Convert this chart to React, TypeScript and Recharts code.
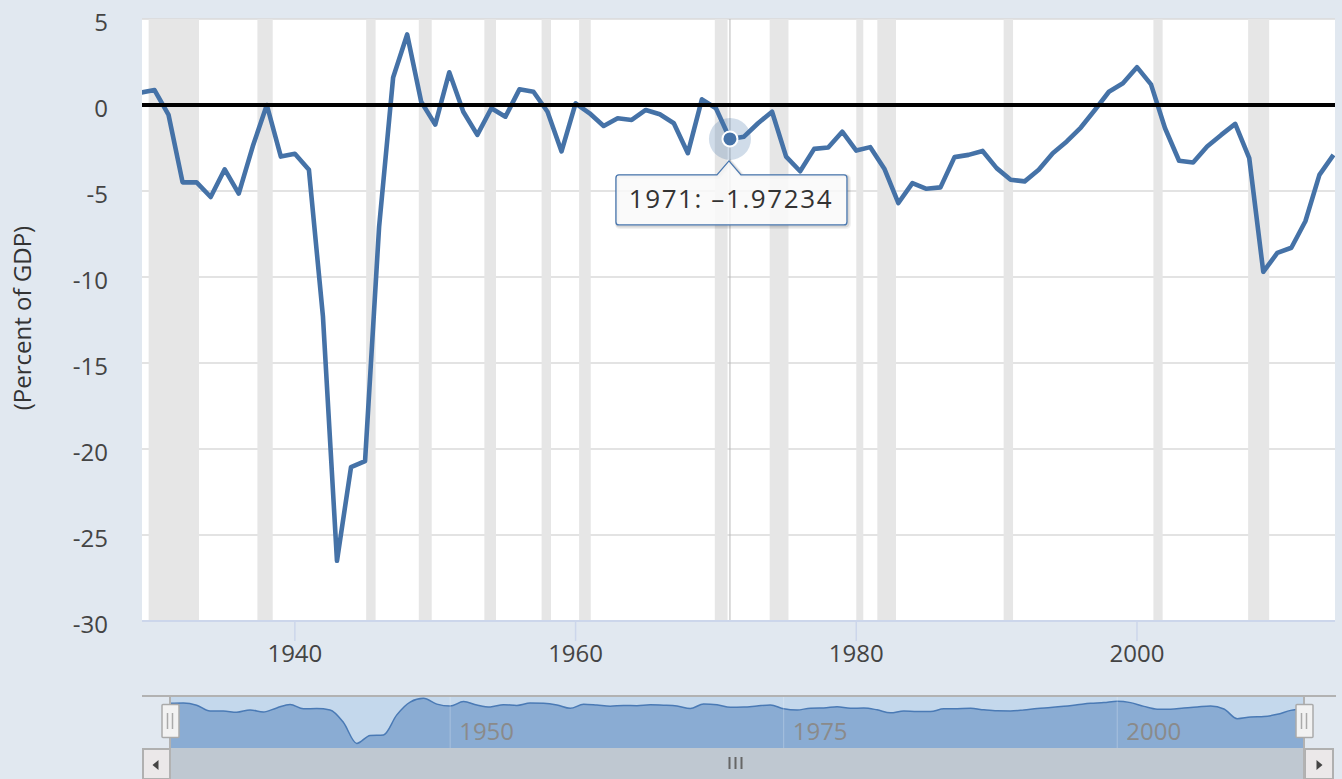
import React from 'react';
import {
  LineChart,
  Line,
  XAxis,
  YAxis,
  CartesianGrid,
  ReferenceArea,
  ReferenceLine,
  ReferenceDot,
  AreaChart,
  Area,
} from 'recharts';

// ---------- data ----------
const years = [
  1929, 1930, 1931, 1932, 1933, 1934, 1935, 1936, 1937, 1938, 1939,
  1940, 1941, 1942, 1943, 1944, 1945, 1946, 1947, 1948, 1949,
  1950, 1951, 1952, 1953, 1954, 1955, 1956, 1957, 1958, 1959,
  1960, 1961, 1962, 1963, 1964, 1965, 1966, 1967, 1968, 1969,
  1970, 1971, 1972, 1973, 1974, 1975, 1976, 1977, 1978, 1979,
  1980, 1981, 1982, 1983, 1984, 1985, 1986, 1987, 1988, 1989,
  1990, 1991, 1992, 1993, 1994, 1995, 1996, 1997, 1998, 1999,
  2000, 2001, 2002, 2003, 2004, 2005, 2006, 2007, 2008, 2009,
  2010, 2011, 2012, 2013, 2014,
];

const deficitPctGdp = [
  0.72, 0.87, -0.58, -4.5, -4.5, -5.35, -3.74, -5.15, -2.4, 0.0, -3.0,
  -2.84, -3.77, -12.3, -26.5, -21.05, -20.7, -7.1, 1.6, 4.1, 0.19,
  -1.14, 1.9, -0.39, -1.74, -0.19, -0.68, 0.91, 0.77, -0.39, -2.7,
  0.1, -0.48, -1.22, -0.77, -0.87, -0.29, -0.54, -1.06, -2.8, 0.33,
  -0.19, -1.97234, -1.84, -1.06, -0.39, -3.0, -3.85, -2.55, -2.47, -1.55,
  -2.65, -2.45, -3.7, -5.7, -4.54, -4.87, -4.79, -3.03, -2.9, -2.67,
  -3.67, -4.35, -4.44, -3.77, -2.8, -2.12, -1.31, -0.29, 0.77, 1.26,
  2.2, 1.2, -1.35, -3.24, -3.34, -2.41, -1.74, -1.1, -3.09, -9.7,
  -8.6, -8.3, -6.76, -4.06, -2.9,
];

// NBER recessions (decimal years)
const recessionStart = [
  1929.58, 1937.33, 1945.08, 1948.83, 1953.5, 1957.58, 1960.25, 1969.92,
  1973.83, 1980.0, 1981.5, 1990.5, 2001.17, 2007.92,
];
const recessionEnd = [
  1933.17, 1938.42, 1945.75, 1949.75, 1954.33, 1958.25, 1961.08, 1970.83,
  1975.17, 1980.5, 1982.83, 1991.17, 2001.83, 2009.42,
];

const yTicks = [-30, -25, -20, -15, -10, -5, 0, 5];
const xTicks = [1940, 1960, 1980, 2000];
const navTicks = [1950, 1975, 2000];
const hoverYear = 1971;
const yTitle = '(Percent of GDP)';

const data = years.map((year, i) => ({ year, value: deficitPctGdp[i] }));
const hoverValue = deficitPctGdp[years.indexOf(hoverYear)];

// ---------- style ----------
const FONT = '"Open Sans", "DejaVu Sans", sans-serif';
const BG = '#e1e8f0';
const SERIES = '#4572a7';

const YTick = (props: any) => {
  const { x, y, payload } = props;
  return (
    <text x={x} y={y + 11.5} textAnchor="end" fontSize={24} fill="#444" fontFamily={FONT}>
      {payload.value}
    </text>
  );
};

const XTick = (props: any) => {
  const { x, y, payload } = props;
  return (
    <text x={x} y={y + 19} textAnchor="middle" fontSize={24} fill="#444" fontFamily={FONT}>
      {payload.value}
    </text>
  );
};

const YTitle = () => (
  <text
    transform="translate(31,318) rotate(-90)"
    textAnchor="middle"
    fontSize={24}
    fill="#333"
    fontFamily={FONT}
  >
    {yTitle}
  </text>
);

const HoverMarker = (props: any) => {
  const { cx, cy } = props;
  const label = `${hoverYear}: ${hoverValue < 0 ? '\u2013' : ''}${Math.abs(hoverValue)}`;
  const bx0 = cx - 114;
  const bx1 = cx + 117;
  const by0 = cy + 36;
  const by1 = cy + 86;
  const ax = cx - 1;
  const ay = cy + 22;
  const r = 3;
  const d = `M${bx0 + r},${by0} L${ax - 12},${by0} L${ax},${ay} L${ax + 12},${by0} L${bx1 - r},${by0} Q${bx1},${by0} ${bx1},${by0 + r} L${bx1},${by1 - r} Q${bx1},${by1} ${bx1 - r},${by1} L${bx0 + r},${by1} Q${bx0},${by1} ${bx0},${by1 - r} L${bx0},${by0 + r} Q${bx0},${by0} ${bx0 + r},${by0} Z`;
  return (
    <g>
      <circle cx={cx} cy={cy} r={21} fill="rgba(69,114,167,0.25)" />
      <circle cx={cx} cy={cy} r={7.5} fill={SERIES} stroke="#fff" strokeWidth={2} />
      <path d={d} transform="translate(1.5,1.5)" fill="none" stroke="rgba(0,0,0,0.06)" strokeWidth={5} />
      <path d={d} transform="translate(1,1)" fill="none" stroke="rgba(0,0,0,0.1)" strokeWidth={3} />
      <path d={d} fill="rgba(249,249,249,0.85)" stroke="#4a78b0" strokeWidth={1.3} />
      <text
        x={cx + 1}
        y={by0 + 33}
        textAnchor="middle"
        fontSize={26}
        letterSpacing={1.6}
        fill="#333"
        fontFamily={FONT}
      >
        {label}
      </text>
    </g>
  );
};

const NavChrome = () => (
  <svg
    width={1342}
    height={779}
    style={{ position: 'absolute', left: 0, top: 0, pointerEvents: 'none' }}
  >
    {/* scrollbar */}
    <rect x={142} y={748} width={1191} height={31} fill="#bfc8d1" />
    <rect x={143} y={749} width={27} height={30} fill="#ebe8e9" stroke="#b0b0b0" strokeWidth={2} />
    <path d="M158.5,760 L152.5,765 L158.5,770 Z" fill="#444" />
    <rect x={1305} y={749} width={28} height={30} fill="#ebe8e9" stroke="#b0b0b0" strokeWidth={2} />
    <path d="M1316.5,760 L1322.5,765 L1316.5,770 Z" fill="#444" />
    <rect x={728.5} y={757} width={2} height={12} fill="#666" />
    <rect x={734.5} y={757} width={2} height={12} fill="#666" />
    <rect x={740.5} y={757} width={2} height={12} fill="#666" />
    {/* navigator outline */}
    <line x1={142} x2={1336} y1={696} y2={696} stroke="#b2b2b2" strokeWidth={2} />
    <line x1={170} x2={170} y1={696} y2={779} stroke="#b2b2b2" strokeWidth={2} />
    <line x1={1304} x2={1304} y1={696} y2={779} stroke="#b2b2b2" strokeWidth={2} />
    {/* handles */}
    <rect x={162} y={704.5} width={17} height={33} rx={1} fill="#f2f2f2" stroke="#aaa" strokeWidth={1.5} />
    <line x1={167.5} x2={167.5} y1={713} y2={729} stroke="#aaa" strokeWidth={1.5} />
    <line x1={172.5} x2={172.5} y1={713} y2={729} stroke="#aaa" strokeWidth={1.5} />
    <rect x={1296} y={704.5} width={17} height={33} rx={1} fill="#f2f2f2" stroke="#aaa" strokeWidth={1.5} />
    <line x1={1301.5} x2={1301.5} y1={713} y2={729} stroke="#aaa" strokeWidth={1.5} />
    <line x1={1306.5} x2={1306.5} y1={713} y2={729} stroke="#aaa" strokeWidth={1.5} />
  </svg>
);

export default function App() {
  return (
    <div
      style={{
        position: 'fixed',
        left: 0,
        top: 0,
        width: 1342,
        height: 779,
        background: BG,
        overflow: 'hidden',
        fontFamily: FONT,
      }}
    >
      <div style={{ position: 'absolute', left: 0, top: 0 }}>
        <LineChart
          width={1342}
          height={690}
          data={data}
          margin={{ top: 19, right: 7, left: 0, bottom: 9 }}
        >
          <CartesianGrid fill="#ffffff" vertical={false} stroke="#dadada" strokeWidth={1.5} />
          {recessionStart.map((s, i) => (
            <ReferenceArea
              key={`rec-${i}`}
              x1={s}
              x2={recessionEnd[i]}
              fill="#e6e6e6"
              fillOpacity={1}
              stroke="none"
              ifOverflow="hidden"
            />
          ))}
          <XAxis
            dataKey="year"
            type="number"
            domain={[1929.107, 2014.11]}
            allowDataOverflow
            ticks={xTicks}
            interval={0}
            tickSize={20}
            height={60}
            axisLine={{ stroke: '#ccd6eb', strokeWidth: 2 }}
            tickLine={{ stroke: '#ccd6eb', strokeWidth: 1.5 }}
            tick={<XTick />}
          />
          <YAxis
            type="number"
            domain={[-30, 5]}
            ticks={yTicks}
            interval={0}
            width={142}
            axisLine={false}
            tickLine={false}
            tickSize={0}
            tickMargin={34}
            tick={<YTick />}
            label={() => <YTitle />}
          />
          <ReferenceLine x={hoverYear} stroke="#b8b8b8" strokeWidth={1} />
          <Line
            type="linear"
            dataKey="value"
            stroke={SERIES}
            strokeWidth={4.6}
            strokeLinejoin="round"
            dot={false}
            activeDot={false}
            isAnimationActive={false}
          />
          <ReferenceLine y={0} stroke="#000" strokeWidth={3.8} />
          <ReferenceDot x={hoverYear} y={hoverValue} r={7} shape={<HoverMarker />} />
        </LineChart>
      </div>
      <div style={{ position: 'absolute', left: 0, top: 696 }}>
        <AreaChart
          width={1342}
          height={52}
          data={data}
          margin={{ top: 0, right: 38, left: 170, bottom: 0 }}
        >
          <CartesianGrid fill="#c4d8ec" horizontal={false} vertical={false} />
          <XAxis dataKey="year" type="number" domain={[1929, 2014]} hide />
          <YAxis type="number" domain={[-29.6, 5.7]} allowDataOverflow hide />
          <Area
            type="monotone"
            dataKey="value"
            baseValue="dataMin"
            stroke="#4a7ab5"
            strokeWidth={1.5}
            fill="#8aacd3"
            fillOpacity={1}
            isAnimationActive={false}
          />
          {navTicks.map((t) => (
            <ReferenceLine
              key={`nav-${t}`}
              x={t}
              stroke="rgba(255,255,255,0.25)"
              strokeWidth={1}
              label={(p: any) => {
                const vb = p.viewBox || p;
                return (
                  <text
                    x={vb.x + 9}
                    y={vb.y + vb.height - 8}
                    fontSize={24}
                    fill="#8a8a8a"
                    fontFamily={FONT}
                  >
                    {t}
                  </text>
                );
              }}
            />
          ))}
        </AreaChart>
      </div>
      <NavChrome />
    </div>
  );
}
